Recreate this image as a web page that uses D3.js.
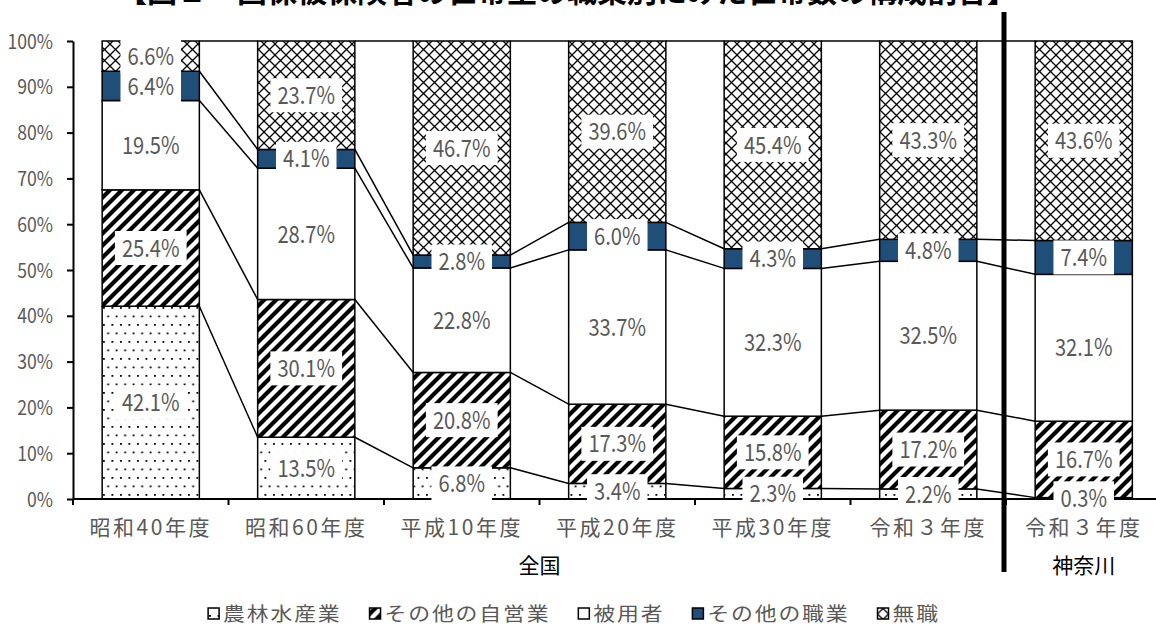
<!DOCTYPE html>
<html><head><meta charset="utf-8">
<script src="https://cdn.jsdelivr.net/npm/d3@7"></script>
<style>body{margin:0;background:#fff;} svg{display:block;}</style>
</head><body><svg id="c" width="1156" height="628"></svg>
<script>
// ---- data ----
const titleText = "【図２　国保被保険者の世帯主の職業別にみた世帯数の構成割合】";
const categories = ["昭和40年度","昭和60年度","平成10年度","平成20年度","平成30年度","令和３年度","令和３年度"];
const groupNames = ["全国","神奈川"];
const groupRanges = [[0,5],[6,6]];
const seriesNames = ["農林水産業","その他の自営業","被用者","その他の職業","無職"];
const agri     = [42.1,13.5, 6.8, 3.4, 2.3, 2.2, 0.3];
const selfEmp  = [25.4,30.1,20.8,17.3,15.8,17.2,16.7];
const employee = [19.5,28.7,22.8,33.7,32.3,32.5,32.1];
const otherJob = [ 6.4, 4.1, 2.8, 6.0, 4.3, 4.8, 7.4];
const noJob    = [ 6.6,23.7,46.7,39.6,45.4,43.3,43.6];
const yTicks = [0,0.1,0.2,0.3,0.4,0.5,0.6,0.7,0.8,0.9,1.0];

const seriesValues = [agri, selfEmp, employee, otherJob, noJob];
const rows = categories.map((c,i)=>{
  const r = {idx:i};
  seriesNames.forEach((s,k)=> r[s] = seriesValues[k][i]);
  return r;
});

const svg = d3.select("#c");
const gray = "#595959";
const font = "'Noto Sans CJK JP','Noto Sans',sans-serif";

// ---- patterns ----
const defs = svg.append("defs");
const pDots = defs.append("pattern").attr("id","pDots").attr("patternUnits","userSpaceOnUse")
  .attr("width",8.5).attr("height",17);
pDots.append("rect").attr("width",8.5).attr("height",17).attr("fill","#fff");
pDots.append("rect").attr("x",1).attr("y",1).attr("width",1.8).attr("height",1.8).attr("fill","#000");
pDots.append("rect").attr("x",5.25).attr("y",9.5).attr("width",1.8).attr("height",1.8).attr("fill","#000");

const pDiag = defs.append("pattern").attr("id","pDiag").attr("patternUnits","userSpaceOnUse")
  .attr("width",12).attr("height",12);
pDiag.append("rect").attr("width",12).attr("height",12).attr("fill","#fff");
pDiag.append("path").attr("d","M-3,15 L15,-3 M-3,3 L3,-3 M9,15 L15,9")
  .attr("stroke","#000").attr("stroke-width",4.2);

const pDiam = defs.append("pattern").attr("id","pDiam").attr("patternUnits","userSpaceOnUse")
  .attr("width",11).attr("height",11);
pDiam.append("rect").attr("width",11).attr("height",11).attr("fill","#fff");
pDiam.append("path").attr("d","M0,0 L11,11 M11,0 L0,11")
  .attr("stroke","#000").attr("stroke-width",1.3);

const fills = ["url(#pDots)","url(#pDiag)","#fff","#1F4E79","url(#pDiam)"];

// ---- scales ----
const x = d3.scaleBand().domain(d3.range(categories.length))
  .range([73, 1161.5]).paddingInner(0.375).paddingOuter(0.1875);
const y = d3.scaleLinear().domain([0,1]).range([499, 41]);
const bw = x.bandwidth();
const boundary = k => x.range()[0] + k * x.step();

const stack = d3.stack().keys(seriesNames).offset(d3.stackOffsetExpand);
const stacked = stack(rows);

// ---- title ----
svg.append("text").attr("x",567).attr("y",2).attr("text-anchor","middle")
  .attr("font-family",font).attr("font-size",30).attr("font-weight","bold")
  .attr("fill","#000").text(titleText);

// ---- bars ----
const gBars = svg.append("g");
stacked.forEach((s,k)=>{
  gBars.selectAll(null).data(s).join("rect")
    .attr("x",(d,i)=>x(i)).attr("width",bw)
    .attr("y",d=>y(d[1])).attr("height",d=>y(d[0])-y(d[1]))
    .attr("fill",fills[k]).attr("stroke","#000").attr("stroke-width",1.5);
});

// ---- series lines ----
const gLines = svg.append("g");
stacked.forEach((s,k)=>{
  for(let i=0;i<s.length-1;i++){
    gLines.append("line")
      .attr("x1",x(i)+bw).attr("y1",y(s[i][1]))
      .attr("x2",x(i+1)).attr("y2",y(s[i+1][1]))
      .attr("stroke","#000").attr("stroke-width",1.5);
  }
});

// ---- y axis ----
const yAxis = svg.append("g").attr("transform","translate(73,0)")
  .call(d3.axisLeft(y).tickValues(yTicks).tickFormat(d3.format(".0%")).tickSize(6).tickSizeOuter(0));
yAxis.select(".domain").attr("stroke","#000").attr("stroke-width",2);
yAxis.selectAll(".tick line").attr("stroke","#000").attr("stroke-width",2);
yAxis.selectAll(".tick text").attr("font-family",font).attr("font-size",20).attr("fill",gray)
  .attr("x",-20/0.88).attr("dy","0.35em").attr("transform","scale(0.88,1)");

// ---- x axis ----
const gX = svg.append("g");
gX.append("line").attr("x1",73).attr("x2",boundary(categories.length))
  .attr("y1",y(0)).attr("y2",y(0)).attr("stroke","#000").attr("stroke-width",2);
gX.selectAll(null).data(d3.range(categories.length+1)).join("line")
  .attr("x1",k=>boundary(k)).attr("x2",k=>boundary(k))
  .attr("y1",y(0)).attr("y2",y(0)+6).attr("stroke","#000").attr("stroke-width",2);
gX.selectAll(null).data(categories).join("text")
  .attr("x",(d,i)=>x(i)+bw/2).attr("y",528).attr("dy","0.35em")
  .attr("text-anchor","middle").attr("font-family",font).attr("font-size",21)
  .attr("letter-spacing",2.5).attr("fill",gray).text(d=>d);
gX.selectAll(null).data(groupNames).join("text")
  .attr("x",(d,i)=>(boundary(groupRanges[i][0])+boundary(groupRanges[i][1]+1))/2)
  .attr("y",566).attr("dy","0.35em")
  .attr("text-anchor","middle").attr("font-family",font).attr("font-size",21)
  .attr("fill","#000").text(d=>d);

// ---- separator ----
svg.append("line").attr("x1",boundary(6)-2).attr("x2",boundary(6)-2)
  .attr("y1",12).attr("y2",572).attr("stroke","#000").attr("stroke-width",5);

// ---- labels ----
const gLab = svg.append("g");
const fmt = d3.format(".1f");
stacked.forEach((s,k)=>{
  s.forEach((d,i)=>{
    const g = gLab.append("g")
      .attr("transform",`translate(${x(i)+bw/2},${y((d[0]+d[1])/2)})`);
    const r = g.append("rect").attr("fill","#fff");
    const t = g.append("text").attr("text-anchor","middle").attr("dy","0.36em")
      .attr("font-family",font).attr("font-size",24).attr("fill",gray)
      .attr("transform","scale(0.84,1)")
      .text(fmt(seriesValues[k][i]) + "%");
    const w = t.node().getComputedTextLength()*0.84 + 14;
    r.attr("x",-w/2).attr("y",-17).attr("width",w).attr("height",34);
  });
});

// ---- legend ----
const gLeg = svg.append("g");
let lx = 0;
seriesNames.forEach((n,k)=>{
  const g = gLeg.append("g");
  g.append("rect").attr("x",0).attr("y",-6).attr("width",11).attr("height",11)
    .attr("fill",fills[k]).attr("stroke","#000").attr("stroke-width",1.5);
  const t = g.append("text").attr("x",15/1.15).attr("dy","0.35em")
    .attr("font-family",font).attr("font-size",19).attr("letter-spacing",1.6)
    .attr("fill",gray).attr("transform","scale(1.15,1)").text(n);
  const w = 15 + t.node().getComputedTextLength()*1.15;
  g.attr("transform",`translate(${lx},0)`);
  lx += w + 28;
});
const totalW = lx - 28;
gLeg.attr("transform",`translate(${574 - totalW/2},614)`);
</script></body></html>
